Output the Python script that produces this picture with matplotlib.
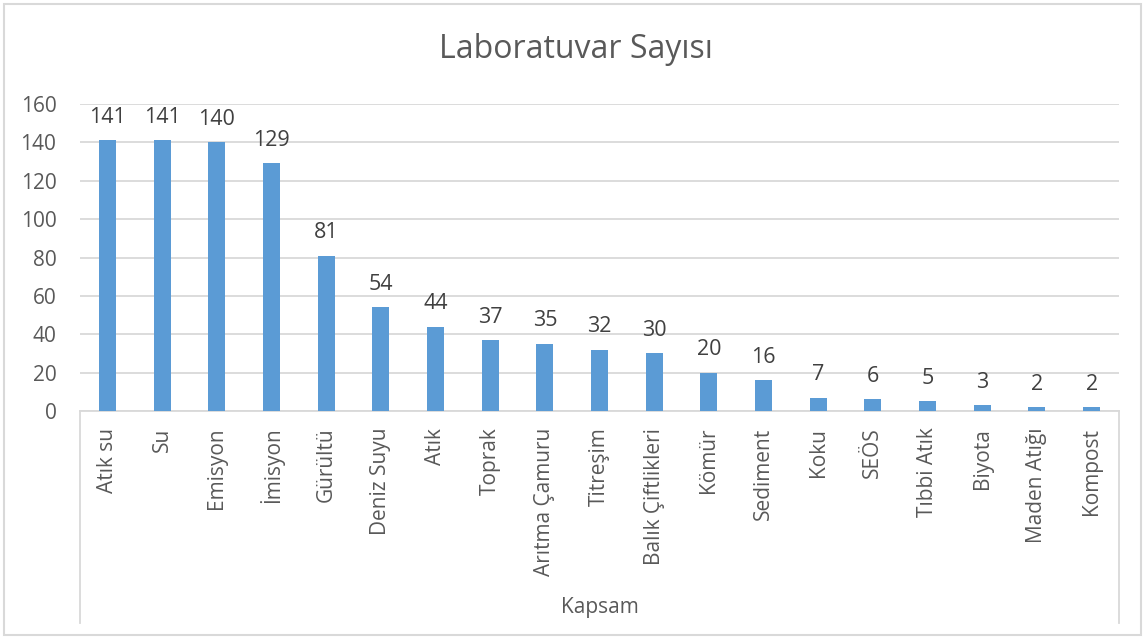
import matplotlib.pyplot as plt
from matplotlib.lines import Line2D
from matplotlib.patches import Rectangle

categories = ['Atık su', 'Su', 'Emisyon', 'İmisyon', 'Gürültü', 'Deniz Suyu', 'Atık',
              'Toprak', 'Arıtma Çamuru', 'Titreşim', 'Balık Çiftlikleri', 'Kömür',
              'Sediment', 'Koku', 'SEÖS', 'Tıbbi Atık', 'Biyota', 'Maden Atığı', 'Kompost']
counts = [141, 141, 140, 129, 81, 54, 44, 37, 35, 32, 30, 20, 16, 7, 6, 5, 3, 2, 2]
yticks = [0, 20, 40, 60, 80, 100, 120, 140, 160]

plt.rcParams['font.family'] = ['Open Sans', 'DejaVu Sans']
TXT = '#595959'
GRID = '#d9d9d9'

fig = plt.figure(figsize=(11.43, 6.37), dpi=100)
W, H = 1143, 637
ax = fig.add_axes([80 / W, 1 - 411 / H, (1119 - 80) / W, (411 - 104) / H])

x = list(range(len(categories)))
ax.bar(x, counts, width=0.31, color='#5b9bd5', zorder=3)
for xi, v in zip(x, counts):
    ax.annotate(str(v), (xi, v), xytext=(0, 12.5), textcoords='offset points',
                ha='center', va='baseline', fontsize=15.5, color='#404040')

ax.set_xlim(-0.5, len(categories) - 0.5)
ax.set_ylim(0, 160)
ax.set_yticks(yticks)
ax.set_yticklabels([str(t) for t in yticks], fontsize=15, color=TXT)
ax.tick_params(axis='y', length=0, pad=17)
ax.set_xticks(x)
ax.set_xticklabels(categories, rotation=90, fontsize=15, color=TXT, ha='center', va='top')
ax.tick_params(axis='x', length=0, pad=12)
ax.grid(axis='y', color=GRID, linewidth=1.3, zorder=0)
for side in ['top', 'right', 'left']:
    ax.spines[side].set_visible(False)
ax.spines['bottom'].set_color(GRID)
ax.spines['bottom'].set_linewidth(1.3)

# outer box of the category axis
for px in (80, 1119):
    fig.add_artist(Line2D([px / W, px / W], [1 - 411 / H, 1 - 623 / H],
                          color=GRID, linewidth=1.3))
fig.text(600 / W, 1 - 607 / H, 'Kapsam', ha='center', va='center', fontsize=15, color=TXT)

fig.text(576 / W, 1 - 50 / H, 'Laboratuvar Sayısı', ha='center', va='center',
         fontsize=23, color=TXT)

# chart border
fig.add_artist(Rectangle((4 / W, 2 / H), 1137 / W, 631 / H, fill=False,
                         edgecolor=GRID, linewidth=1.5, transform=fig.transFigure))

fig.savefig('out.png', dpi=100)
